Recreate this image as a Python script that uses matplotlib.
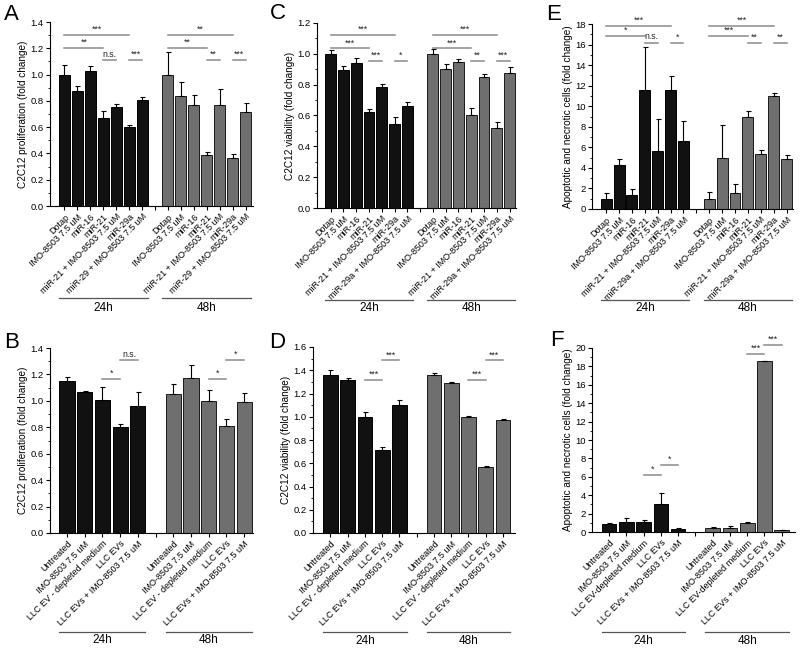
import matplotlib.pyplot as plt
import numpy as np
from matplotlib.ticker import MultipleLocator, AutoMinorLocator

plt.rcParams['font.family'] = ['Liberation Sans', 'DejaVu Sans']

## x labels
labels_a = ['Dotap', 'IMO-8503 7.5 uM', 'miR-16', 'miR-21', 'miR-21 + IMO-8503 7.5 uM',
            'miR-29a', 'miR-29 + IMO-8503 7.5 uM']
labels_ce = ['Dotap', 'IMO-8503 7.5 uM', 'miR-16', 'miR-21', 'miR-21 + IMO-8503 7.5 uM',
             'miR-29a', 'miR-29a + IMO-8503 7.5 uM']
labels_bd = ['Untreated', 'IMO-8503 7.5 uM', 'LLC EV - depleted medium', 'LLC EVs',
             'LLC EVs + IMO-8503 7.5 uM']
labels_f = ['Untreated', 'IMO-8503 7.5 uM', 'LLC EV-depleted medium', 'LLC EVs',
            'LLC EVs + IMO-8503 7.5 uM']

## panel A - proliferation
a_24 = [1.0, 0.873, 1.025, 0.666, 0.752, 0.60, 0.805]
a_24_err = [0.076, 0.043, 0.038, 0.054, 0.025, 0.013, 0.023]
a_48 = [1.0, 0.835, 0.772, 0.385, 0.772, 0.367, 0.714]
a_48_err = [0.17, 0.109, 0.071, 0.025, 0.118, 0.025, 0.066]
a_sig = [(0, 5, 1.30, '***'), (0, 3, 1.20, '**'), (3, 4, 1.11, 'n.s.'), (5, 6, 1.11, '***'),
         (8, 13, 1.30, '**'), (8, 11, 1.20, '**'), (11, 12, 1.11, '**'), (13, 14, 1.11, '***')]

## panel C - viability
c_24 = [1.0, 0.893, 0.94, 0.622, 0.784, 0.546, 0.663]
c_24_err = [0.023, 0.026, 0.03, 0.018, 0.02, 0.044, 0.024]
c_48 = [1.0, 0.904, 0.949, 0.60, 0.847, 0.522, 0.878]
c_48_err = [0.033, 0.03, 0.017, 0.048, 0.024, 0.035, 0.036]
c_sig = [(0, 5, 1.12, '***'), (0, 3, 1.035, '***'), (3, 4, 0.955, '***'), (5, 6, 0.955, '*'),
         (8, 13, 1.12, '***'), (8, 11, 1.035, '***'), (11, 12, 0.955, '**'), (13, 14, 0.955, '***')]

## panel E - apoptotic/necrotic
e_24 = [1.0, 4.25, 1.35, 11.56, 5.62, 11.56, 6.62]
e_24_err = [0.52, 0.65, 0.55, 4.2, 3.18, 1.34, 1.92]
e_48 = [1.0, 4.93, 1.56, 8.96, 5.36, 10.97, 4.87]
e_48_err = [0.68, 3.22, 0.9, 0.54, 0.42, 0.33, 0.39]
e_sig = [(0, 5, 17.8, '***'), (0, 3, 16.8, '*'), (3, 4, 16.2, 'n.s.'), (5, 6, 16.2, '*'),
         (8, 13, 17.8, '***'), (8, 11, 16.8, '***'), (11, 12, 16.2, '**'), (13, 14, 16.2, '**')]

## panel B - proliferation with EVs
b_24 = [1.149, 1.066, 1.003, 0.803, 0.962]
b_24_err = [0.031, 0.012, 0.101, 0.025, 0.104]
b_48 = [1.05, 1.17, 1.0, 0.808, 0.995]
b_48_err = [0.074, 0.1, 0.081, 0.058, 0.061]
b_sig = [(2, 3, 1.167, '*'), (3, 4, 1.31, 'n.s.'), (8, 9, 1.167, '*'), (9, 10, 1.31, '*')]

## panel D - viability with EVs
d_24 = [1.357, 1.313, 1.0, 0.712, 1.105]
d_24_err = [0.043, 0.023, 0.038, 0.031, 0.041]
d_48 = [1.362, 1.29, 0.998, 0.567, 0.969]
d_48_err = [0.018, 0.012, 0.006, 0.009, 0.009]
d_sig = [(2, 3, 1.32, '***'), (3, 4, 1.485, '***'), (8, 9, 1.32, '***'), (9, 10, 1.485, '***')]

## panel F - apoptotic with EVs
f_24 = [0.86, 1.07, 1.04, 3.03, 0.36]
f_24_err = [0.1, 0.5, 0.28, 1.17, 0.07]
f_48 = [0.43, 0.46, 0.96, 18.54, 0.18]
f_48_err = [0.11, 0.14, 0.11, 0.05, 0.07]
f_sig = [(2, 3, 6.24, '*'), (3, 4, 7.26, '*'), (8, 9, 19.4, '***'), (9, 10, 20.3, '***')]

ylab_prol = 'C2C12 proliferation (fold change)'
ylab_via = 'C2C12 viability (fold change)'
ylab_apo = 'Apoptotic and necrotic cells (fold change)'


def plot_panel(fig, rect, v24, e24, v48, e48, labels, sig, ylim, ystep, ylab,
               xlim, line_y, text_y, letter, letter_xy):
    ax = fig.add_axes(rect)
    n = len(v24)
    x24 = np.arange(n)
    x48 = np.arange(n) + n + 1
    ax.bar(x24, v24, width=0.85, color='#111111', edgecolor='#000000', linewidth=0.7, zorder=2)
    ax.bar(x48, v48, width=0.85, color='#6f6f6f', edgecolor='#1a1a1a', linewidth=0.7, zorder=2)
    ax.errorbar(x24, v24, yerr=[np.zeros(n), e24], fmt='none', ecolor='black',
                elinewidth=0.8, capsize=1.8, capthick=0.8, zorder=3)
    ax.errorbar(x48, v48, yerr=[np.zeros(n), e48], fmt='none', ecolor='black',
                elinewidth=0.8, capsize=1.8, capthick=0.8, zorder=3)

    ## significance bars
    for i, j, y, t in sig:
        ax.plot([i, j], [y, y], color='#8a8a8a', lw=1.1, clip_on=False, zorder=1)
        ax.annotate(t, xy=((i + j) / 2.0, y), xytext=(0, 0.8), textcoords='offset points',
                    ha='center', va='bottom', fontsize=6.3, color='#222222',
                    annotation_clip=False)

    ax.set_xlim(xlim)
    ax.set_ylim(ylim)
    ax.yaxis.set_major_locator(MultipleLocator(ystep))
    ax.yaxis.set_minor_locator(AutoMinorLocator(2))
    if ystep < 1:
        ax.yaxis.set_major_formatter(plt.FormatStrFormatter('%.1f'))
    ticks = list(x24) + [n] + list(x48)
    ax.set_xticks(ticks)
    ax.set_xticklabels(labels + [''] + labels, rotation=45, ha='right',
                       rotation_mode='anchor', fontsize=6.5)
    ax.tick_params(axis='x', length=3, width=0.8, pad=1.5)
    ax.tick_params(axis='y', which='major', length=3, width=0.8, labelsize=6.8, pad=1.5)
    ax.tick_params(axis='y', which='minor', length=1.8, width=0.6)
    for s in ['top', 'right']:
        ax.spines[s].set_visible(False)
    for s in ['left', 'bottom']:
        ax.spines[s].set_linewidth(0.8)
    ax.set_ylabel(ylab, fontsize=7.2, labelpad=1.5)

    ## group lines under the labels
    trans = ax.get_xaxis_transform()
    for xs, t in [(x24, '24h'), (x48, '48h')]:
        ax.plot([xs[0] - 0.425, xs[-1] + 0.425], [line_y, line_y], color='#555555', lw=0.9,
                transform=trans, clip_on=False)
        ax.text((xs[0] + xs[-1]) / 2.0, text_y, t, transform=trans, ha='center', va='center',
                fontsize=8.5)

    fig.text(letter_xy[0] / 800.0, 1 - letter_xy[1] / 648.0, letter, fontsize=16,
             ha='left', va='top')
    return ax


fig = plt.figure(figsize=(8, 6.48), dpi=100)


def rect_px(l, t, r, b):
    return [l / 800.0, 1 - b / 648.0, (r - l) / 800.0, (b - t) / 648.0]


plot_panel(fig, rect_px(50, 22, 253, 206), a_24, a_24_err, a_48, a_48_err, labels_a, a_sig,
           (0, 1.4), 0.2, ylab_prol, (-1.12, 14.58), -0.50, -0.555, 'A', (4, 4))
plot_panel(fig, rect_px(317, 23, 516, 208), c_24, c_24_err, c_48, c_48_err, labels_ce, c_sig,
           (0, 1.2), 0.2, ylab_via, (-1.07, 14.5), -0.497, -0.54, 'C', (270, 3))
plot_panel(fig, rect_px(592, 24, 793, 209), e_24, e_24_err, e_48, e_48_err, labels_ce, e_sig,
           (0, 18), 2, ylab_apo, (-1.1, 14.5), -0.49, -0.535, 'E', (546, 4))
plot_panel(fig, rect_px(50, 348, 253, 533), b_24, b_24_err, b_48, b_48_err, labels_bd, b_sig,
           (0, 1.4), 0.2, ylab_prol, (-0.96, 10.5), -0.535, -0.578, 'B', (4, 332))
plot_panel(fig, rect_px(313, 347, 515, 533), d_24, d_24_err, d_48, d_48_err, labels_bd, d_sig,
           (0, 1.6), 0.2, ylab_via, (-1.01, 10.7), -0.532, -0.58, 'D', (269, 332))
plot_panel(fig, rect_px(592, 348, 795, 532), f_24, f_24_err, f_48, f_48_err, labels_f, f_sig,
           (0, 20), 2, ylab_apo, (-0.99, 10.77), -0.543, -0.59, 'F', (550, 330))

fig.savefig('out.png', dpi=100)
